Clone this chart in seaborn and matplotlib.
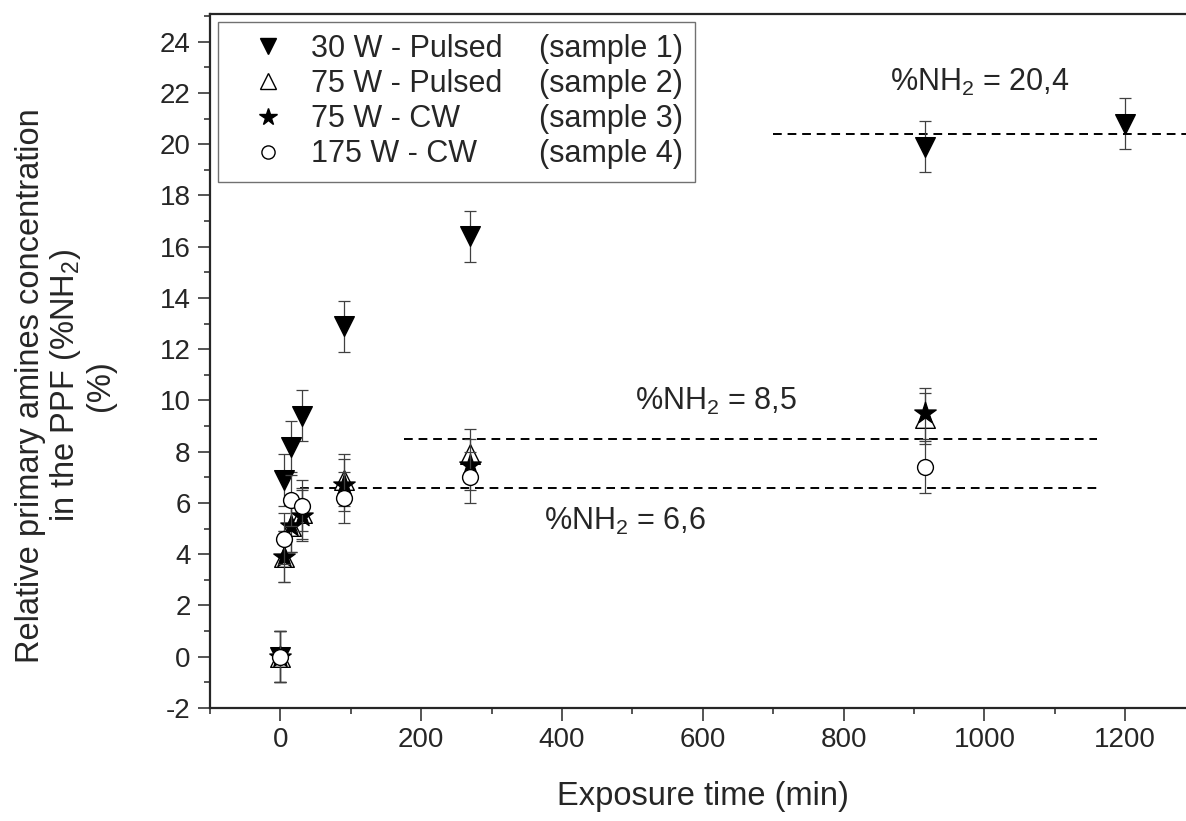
import numpy as np
import pandas as pd
import seaborn as sns
import matplotlib.pyplot as plt
from matplotlib.lines import Line2D
from matplotlib.ticker import MultipleLocator

# exposure time (min) and relative %NH2
time_s1 = [0, 5, 15, 30, 90, 270, 915, 1200]
nh2_s1 = [0, 6.9, 8.2, 9.4, 12.9, 16.4, 19.9, 20.8]
err_s1 = [1.0, 1.0, 1.0, 1.0, 1.0, 1.0, 1.0, 1.0]

time_s234 = [0, 5, 15, 30, 90, 270, 915]
nh2_s2 = [0, 3.9, 5.1, 5.6, 6.9, 7.9, 9.3]
nh2_s3 = [0, 3.9, 5.1, 5.5, 6.7, 7.5, 9.5]
nh2_s4 = [0, 4.6, 6.1, 5.9, 6.2, 7.0, 7.4]
err_s234 = [1.0, 1.0, 1.0, 1.0, 1.0, 1.0, 1.0]

names = ["30 W - Pulsed", "75 W - Pulsed", "75 W - CW", "175 W - CW"]
samples = ["(sample 1)", "(sample 2)", "(sample 3)", "(sample 4)"]

# plateau levels and the time span of each dashed line
plateau_vals = [20.4, 8.5, 6.6]
plateau_from = [700, 175, 28]
plateau_to = [1300, 1160, 1160]
plateau_text = ["%NH$_2$ = 20,4", "%NH$_2$ = 8,5", "%NH$_2$ = 6,6"]
plateau_text_xy = [(866, 22.07), (504, 9.64), (374, 4.95)]

frames = []
for name, t, v, e in [(names[0], time_s1, nh2_s1, err_s1),
                      (names[1], time_s234, nh2_s2, err_s234),
                      (names[2], time_s234, nh2_s3, err_s234),
                      (names[3], time_s234, nh2_s4, err_s234)]:
    frames.append(pd.DataFrame({"time": t, "nh2": v, "err": e, "sample": name}))
df = pd.concat(frames, ignore_index=True)

sns.set_style("ticks")
plt.rcParams['font.family'] = ['Liberation Sans', 'DejaVu Sans']
plt.rcParams['mathtext.fontset'] = 'custom'
plt.rcParams['mathtext.rm'] = 'Liberation Sans'
plt.rcParams['mathtext.it'] = 'Liberation Sans:italic'
plt.rcParams['axes.unicode_minus'] = False

fig = plt.figure(figsize=(11.86, 8.21), dpi=100)
ax = fig.add_axes([210 / 1186, 113 / 821, 985.6 / 1186, 694 / 821])

styles = {
    names[0]: dict(marker="v", s=200, facecolor="black"),
    names[1]: dict(marker="^", s=200, facecolor="white"),
    names[2]: dict(marker="*", s=260, facecolor="black"),
    names[3]: dict(marker="o", s=130, facecolor="white"),
}

for k, name in enumerate(names):
    sub = df[df["sample"] == name]
    ax.errorbar(sub["time"], sub["nh2"], yerr=sub["err"], fmt="none",
                ecolor="0.25", elinewidth=0.9, capsize=4.3, capthick=0.9,
                zorder=2 + 2 * k)
    st = styles[name]
    sns.scatterplot(data=sub, x="time", y="nh2", ax=ax, marker=st["marker"],
                    s=st["s"], color=st["facecolor"], edgecolor="black",
                    linewidth=1.0, zorder=3 + 2 * k, legend=False)

for val, x0, x1 in zip(plateau_vals, plateau_from, plateau_to):
    ax.hlines(val, x0, x1, colors="black", linestyles=(0, (4.5, 3)),
              linewidth=1.4, zorder=1)
for txt, (tx, ty) in zip(plateau_text, plateau_text_xy):
    ax.text(tx, ty, txt, fontsize=22, ha="left", va="baseline")

ax.set_xlim(-100, 1300)
ax.set_ylim(-2, 25.08)
ax.xaxis.set_major_locator(MultipleLocator(200))
ax.xaxis.set_minor_locator(MultipleLocator(100))
ax.yaxis.set_major_locator(MultipleLocator(2))
ax.yaxis.set_minor_locator(MultipleLocator(1))
ax.set_yticks(np.arange(-2, 25, 2))
ax.tick_params(which="major", direction="out", length=9, width=1.1,
               labelsize=20, pad=5)
ax.tick_params(which="minor", direction="out", length=4.5, width=1.1)
for side in ["left", "bottom", "top"]:
    ax.spines[side].set_linewidth(1.6)
ax.spines["right"].set_visible(False)

ax.set_xlabel("Exposure time (min)", fontsize=23.5)
ax.set_ylabel("Relative primary amines concentration\nin the PPF (%NH$_2$)\n(%)",
              fontsize=23.5, linespacing=1.08)
ax.xaxis.set_label_coords(0.5, -0.105)
ax.yaxis.set_label_coords(-0.095, 0.465)

# legend: first column markers + names, second column sample numbers
fs = 22
handles = [
    Line2D([], [], ls="none", marker="v", ms=12, mfc="black", mec="black"),
    Line2D([], [], ls="none", marker="^", ms=12, mfc="white", mec="black", mew=1),
    Line2D([], [], ls="none", marker="*", ms=13, mfc="black", mec="black"),
    Line2D([], [], ls="none", marker="o", ms=9.5, mfc="white", mec="black", mew=1),
]
blank = [Line2D([], [], ls="none") for _ in samples]

probe = fig.text(0, 0, "75 W - Pulsed", fontsize=fs)
fig.canvas.draw()
w1 = probe.get_window_extent().width
probe.remove()
fs_px = fs * 100 / 72
L, htp = 2.47, 0.17
cs = (538 - 310 - w1 - (L + htp) * fs_px) / fs_px

leg = ax.legend(handles + blank, names + samples, ncol=2, loc="upper left",
                fontsize=fs, frameon=True, fancybox=False, borderpad=0.4,
                handlelength=L, handletextpad=htp, labelspacing=0.17,
                columnspacing=cs, borderaxespad=0.25)
leg.get_frame().set_edgecolor("0.3")
leg.get_frame().set_linewidth(1.0)

fig.savefig("out.png", dpi=100)
